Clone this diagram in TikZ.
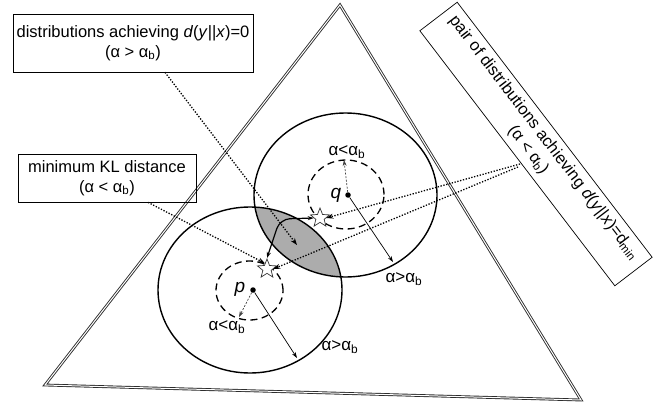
\documentclass[tikz,border=0pt]{standalone}
\usepackage{fontspec}
\setmainfont{Liberation Sans}
\usetikzlibrary{shapes.geometric,arrows.meta,calc}
\begin{document}
\begin{tikzpicture}[x=1pt,y=-1pt,
  box/.style={draw, line width=0.7pt, align=center, font=\fontsize{16.5}{20}\selectfont, inner sep=2pt},
  tri/.style={draw=gray!35!black, double=white, double distance=1pt, line width=0.9pt, line join=miter},
  bigc/.style={draw, line width=1.4pt},
  smallc/.style={draw, line width=1.3pt, dash pattern=on 7pt off 4.5pt},
  dot/.style={circle, fill, inner sep=0pt, minimum size=5.5pt},
  rad/.style={line width=0.7pt, -{Stealth[length=6pt,width=4pt]}},
  radd/.style={line width=0.7pt, gray!50!black, dash pattern=on 2pt off 1.5pt, -{Stealth[length=6pt,width=4pt]}},
  ptr/.style={line width=1.3pt, dash pattern=on 1.3pt off 1.6pt, -{Stealth[length=7pt,width=5pt]}},
  lab/.style={font=\fontsize{17}{20}\selectfont, inner sep=0pt},
  ctr/.style={font=\fontsize{19}{22}\selectfont\itshape, inner sep=0pt},
  st/.style={star, star points=5, star point ratio=2.3, draw=gray!40!black, fill=white, line width=0.7pt, minimum size=20pt, inner sep=0pt},
  conn/.style={line width=1.2pt, {Stealth[length=6pt,width=4pt]}-{Stealth[length=6pt,width=4pt]}, rounded corners=10pt},
]
\useasboundingbox (0,0) rectangle (668,406);
% simplex
\draw[tri] (340,5) -- (581,400) -- (45,385) -- cycle;
% lens
\begin{scope}
\clip (250,290) ellipse [x radius=92pt, y radius=83pt];
\fill[gray!65] (345.5,195) ellipse [x radius=91.5pt, y radius=82pt];
\end{scope}
% circles
\draw[bigc] (345.5,195) ellipse [x radius=91.5pt, y radius=82pt];
\draw[bigc] (250,290) ellipse [x radius=92pt, y radius=83pt];
\draw[smallc] (346,194.5) ellipse [x radius=38pt, y radius=34.5pt];
\draw[smallc] (249.5,290.5) ellipse [x radius=33.5pt, y radius=29.5pt];
% centres
\node[dot] (q) at (348,195) {};
\node[dot] (p) at (253,290) {};
\node[ctr] (ql) at (336,195) {q};
\node[ctr] (pl) at (240,289) {p};
% radii
\coordinate (qbig) at (393,262);
\coordinate (qsm) at (344,160);
\coordinate (pbig) at (297,358);
\coordinate (psm) at (239,317);
\draw[rad] (q) -- (qbig);
\draw[radd] (q) -- (qsm);
\draw[rad] (p) -- (pbig);
\draw[radd] (p) -- (psm);
% labels
\node[lab] (l1) at (347,152) {α<α\textsubscript{b}};
\node[lab] (l2) at (404,279) {α>α\textsubscript{b}};
\node[lab] (l3) at (227,327) {α<α\textsubscript{b}};
\node[lab] (l4) at (340,347) {α>α\textsubscript{b}};
% stars
\node[st] (sq) at (320,218) {};
\node[st] (sp) at (267,269) {};
\draw[conn] (sp.north) -- (280,219) -- (sq.west);
% boxes
\node[box, minimum width=240pt, minimum height=58pt] (b1) at (133,43)
  {distributions achieving \textit{d}(\textit{y}||\textit{x})=0\\(α > α\textsubscript{b})};
\node[box, minimum width=178pt, minimum height=48pt] (b2) at (107,178)
  {minimum KL distance\\(α < α\textsubscript{b})};
\node[box, rotate=-52.6, minimum width=321pt, minimum height=47pt] (b3) at (536,144)
  {pair of distributions achieving \textit{d}(\textit{y}||\textit{x})=d\textsubscript{min}\\(α < α\textsubscript{b})};
% pointers
\coordinate (a1) at (297,245);
\coordinate (c3a) at (520,164);
\coordinate (c3b) at (518,167);
\draw[ptr] ($(b1.south)+(32,0)$) -- (a1);
\draw[ptr] ($(b2.south)+(41,0)$) -- (sp.110);
\draw[ptr] (c3a) -- (sq.east);
\draw[ptr] (c3b) -- (sp.east);
\end{tikzpicture}
\end{document}
